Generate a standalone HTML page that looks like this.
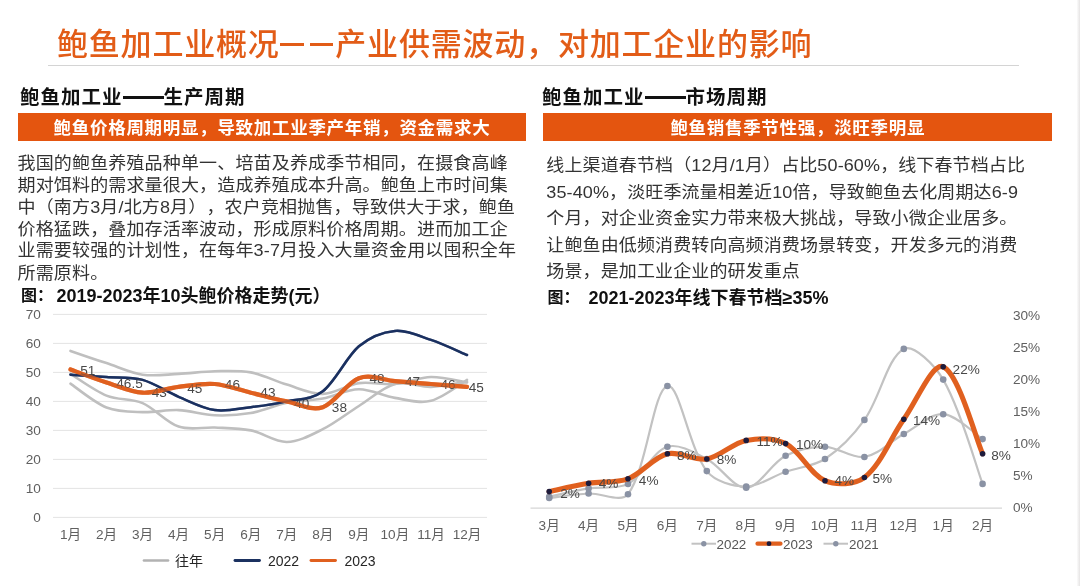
<!DOCTYPE html>
<html lang="zh-CN">
<head>
<meta charset="utf-8">
<title>鲍鱼加工业概况</title>
<style>
html,body{margin:0;padding:0;background:#fff;}
body{text-spacing-trim:space-all;width:1080px;height:586px;position:relative;overflow:hidden;font-family:"Liberation Sans","Noto Sans CJK SC",sans-serif;color:#2b2b2b;}
.abs{position:absolute;white-space:nowrap;}
#title{left:57px;top:23px;font-size:31px;line-height:44px;font-weight:500;color:#e25c17;letter-spacing:0.8px;}
.tdash{display:inline-block;width:55.7px;height:2.4px;vertical-align:9.5px;color:transparent;overflow:hidden;letter-spacing:0;line-height:2.4px;font-size:2px;background:linear-gradient(90deg,#e25c17 0,#e25c17 24px,transparent 24px,transparent 29.6px,#e25c17 29.6px,#e25c17 53px,transparent 53px);}
#rule{left:48px;top:65px;width:970.5px;height:1.2px;background:#d4d4d4;}
#edge{left:1077px;top:0;width:3px;height:586px;background:linear-gradient(90deg,#fbfbfb,#e6e4e4);}
.h2{font-size:19.5px;line-height:26px;font-weight:bold;color:#111;letter-spacing:1px;}
.dash{display:inline-block;width:41px;height:3px;background:#111;vertical-align:5.2px;color:transparent;overflow:hidden;letter-spacing:0;line-height:2.2px;font-size:2px;}
#h2l{left:20px;top:84px;}
#h2r{left:542px;top:84px;}
.bar{background:#e4550f;color:#fff;font-weight:bold;text-align:center;height:25.3px;padding-top:3px;line-height:25.3px;top:112.7px;font-size:17.5px;letter-spacing:0.7px;}
#barl{left:18px;width:508px;}
#barr{left:543.4px;width:508.8px;}
.body{font-size:18px;color:#333;transform:scaleY(0.93);transform-origin:0 0;}
#bodyl{left:17.5px;top:153px;line-height:23.5px;letter-spacing:0.16px;}
#bodyr{left:546.3px;top:152px;line-height:28.5px;letter-spacing:0.12px;}
.cap{font-size:16px;font-weight:bold;color:#111;line-height:24px;}
.cap2{font-size:18px;font-weight:bold;color:#111;line-height:24px;}
#capl{left:21px;top:284px;}
#capl2{left:56.5px;top:284px;}
#capr{left:547.5px;top:286px;}
#capr2{left:588.5px;top:286px;}
svg{position:absolute;left:0;top:0;}
svg text{font-family:"Liberation Sans","Noto Sans CJK SC",sans-serif;}
.ax{font-size:13.6px;fill:#606060;}
.dl{font-size:13.6px;fill:#484848;}
.lg{font-size:14px;fill:#262626;}
.lg2{font-size:13.4px;fill:#555;}
</style>
</head>
<body>
<div id="title" class="abs">鲍鱼加工业概况<span class="tdash">——</span>产业供需波动，对加工企业的影响</div>
<div id="rule" class="abs"></div>
<div id="edge" class="abs"></div>
<div id="h2l" class="abs h2">鲍鱼加工业<span class="dash">——</span>生产周期</div>
<div id="h2r" class="abs h2">鲍鱼加工业<span class="dash">——</span>市场周期</div>
<div id="barl" class="abs bar">鲍鱼价格周期明显，导致加工业季产年销，资金需求大</div>
<div id="barr" class="abs bar">鲍鱼销售季节性强，淡旺季明显</div>
<div id="bodyl" class="abs body">我国的鲍鱼养殖品种单一、培苗及养成季节相同，在摄食高峰<br>期对饵料的需求量很大，造成养殖成本升高。鲍鱼上市时间集<br>中（南方3月/北方8月），农户竞相抛售，导致供大于求，鲍鱼<br>价格猛跌，叠加存活率波动，形成原料价格周期。进而加工企<br>业需要较强的计划性，在每年3-7月投入大量资金用以囤积全年<br>所需原料。</div>
<div id="bodyr" class="abs body">线上渠道春节档（12月/1月）占比50-60%，线下春节档占比<br>35-40%，淡旺季流量相差近10倍，导致鲍鱼去化周期达6-9<br>个月，对企业资金实力带来极大挑战，导致小微企业居多。<br>让鲍鱼由低频消费转向高频消费场景转变，开发多元的消费<br>场景，是加工业企业的研发重点</div>
<div id="capl" class="abs cap">图：</div><div id="capl2" class="abs cap2">2019-2023年10头鲍价格走势(元）</div>
<div id="capr" class="abs cap">图：</div><div id="capr2" class="abs cap2">2021-2023年线下春节档≥35%</div>
<svg width="1080" height="586" viewBox="0 0 1080 586">
<g id="chart-left">
<line x1="53" y1="517.4" x2="487" y2="517.4" stroke="#e4e4e4" stroke-width="1"/>
<text x="40.8" y="521.8" text-anchor="end" class="ax">0</text>
<line x1="53" y1="488.4" x2="487" y2="488.4" stroke="#e4e4e4" stroke-width="1"/>
<text x="40.8" y="492.8" text-anchor="end" class="ax">10</text>
<line x1="53" y1="459.4" x2="487" y2="459.4" stroke="#e4e4e4" stroke-width="1"/>
<text x="40.8" y="463.8" text-anchor="end" class="ax">20</text>
<line x1="53" y1="430.4" x2="487" y2="430.4" stroke="#e4e4e4" stroke-width="1"/>
<text x="40.8" y="434.8" text-anchor="end" class="ax">30</text>
<line x1="53" y1="401.4" x2="487" y2="401.4" stroke="#e4e4e4" stroke-width="1"/>
<text x="40.8" y="405.8" text-anchor="end" class="ax">40</text>
<line x1="53" y1="372.4" x2="487" y2="372.4" stroke="#e4e4e4" stroke-width="1"/>
<text x="40.8" y="376.8" text-anchor="end" class="ax">50</text>
<line x1="53" y1="343.4" x2="487" y2="343.4" stroke="#e4e4e4" stroke-width="1"/>
<text x="40.8" y="347.8" text-anchor="end" class="ax">60</text>
<line x1="53" y1="314.4" x2="487" y2="314.4" stroke="#e4e4e4" stroke-width="1"/>
<text x="40.8" y="318.8" text-anchor="end" class="ax">70</text>
<path d="M70.5 350.9 C76.5 353.0 94.5 359.2 106.5 363.1 C118.6 367.1 130.6 372.9 142.6 374.7 C154.6 376.5 166.6 374.4 178.6 373.9 C190.7 373.3 202.7 371.5 214.7 371.2 C226.7 371.0 238.7 370.2 250.8 372.4 C262.8 374.6 274.8 381.0 286.8 384.6 C298.8 388.2 310.8 394.1 322.8 393.9 C334.9 393.6 346.9 384.8 358.9 383.1 C370.9 381.5 382.9 385.0 394.9 384.0 C407.0 383.0 419.0 377.3 431.0 377.0 C443.0 376.8 461.0 381.6 467.0 382.5" fill="none" stroke="#bfbfbf" stroke-width="2.6" stroke-linecap="round"/>
<path d="M70.5 383.7 C76.5 387.7 94.5 402.8 106.5 407.5 C118.6 412.2 130.6 411.7 142.6 412.1 C154.6 412.6 166.6 409.6 178.6 410.1 C190.7 410.6 202.7 414.8 214.7 415.3 C226.7 415.8 238.7 415.1 250.8 413.0 C262.8 410.9 274.8 405.3 286.8 402.8 C298.8 400.4 310.8 400.8 322.8 398.5 C334.9 396.2 346.9 389.3 358.9 389.2 C370.9 389.1 382.9 396.0 394.9 397.9 C407.0 399.9 419.0 403.8 431.0 400.8 C443.0 397.8 461.0 383.4 467.0 379.9" fill="none" stroke="#bfbfbf" stroke-width="2.6" stroke-linecap="round"/>
<path d="M70.5 373.9 C76.5 377.5 94.5 390.7 106.5 395.6 C118.6 400.5 130.6 398.0 142.6 403.1 C154.6 408.3 166.6 422.6 178.6 426.6 C190.7 430.7 202.7 426.9 214.7 427.5 C226.7 428.1 238.7 428.0 250.8 430.4 C262.8 432.8 274.8 442.2 286.8 442.0 C298.8 441.8 310.8 435.2 322.8 429.2 C334.9 423.2 346.9 413.6 358.9 406.0 C370.9 398.5 382.9 387.2 394.9 384.0 C407.0 380.8 419.0 387.3 431.0 386.9 C443.0 386.5 461.0 382.5 467.0 381.7" fill="none" stroke="#bfbfbf" stroke-width="2.6" stroke-linecap="round"/>
<path d="M70.5 374.7 C76.5 375.1 94.5 376.2 106.5 377.0 C118.6 377.9 130.6 376.7 142.6 379.9 C154.6 383.2 166.6 391.7 178.6 396.8 C190.7 401.8 202.7 408.4 214.7 410.1 C226.7 411.8 238.7 408.6 250.8 407.2 C262.8 405.8 274.8 404.1 286.8 401.4 C298.8 398.7 310.8 400.4 322.8 391.2 C334.9 382.1 346.9 356.4 358.9 346.3 C370.9 336.2 382.9 332.0 394.9 330.9 C407.0 329.9 419.0 335.9 431.0 339.9 C443.0 343.9 461.0 352.5 467.0 355.0" fill="none" stroke="#1b3160" stroke-width="2.5" stroke-linecap="round"/>
<path d="M70.5 369.5 C76.5 371.7 94.5 378.7 106.5 382.5 C118.6 386.4 130.6 392.0 142.6 392.7 C154.6 393.4 166.6 388.3 178.6 386.9 C190.7 385.4 202.7 383.0 214.7 384.0 C226.7 385.0 238.7 389.8 250.8 392.7 C262.8 395.6 274.8 399.0 286.8 401.4 C298.8 403.8 310.8 411.1 322.8 407.2 C334.9 403.3 346.9 382.5 358.9 378.2 C370.9 373.9 382.9 380.1 394.9 381.1 C407.0 382.1 419.0 383.0 431.0 384.0 C443.0 385.0 461.0 386.4 467.0 386.9" fill="none" stroke="#e0601f" stroke-width="4.2" stroke-linecap="round"/>
<text x="87.7" y="375.0" text-anchor="middle" class="dl">51</text>
<text x="129.5" y="388.1" text-anchor="middle" class="dl">46.5</text>
<text x="159.3" y="396.9" text-anchor="middle" class="dl">43</text>
<text x="194.8" y="393.2" text-anchor="middle" class="dl">45</text>
<text x="232.4" y="388.6" text-anchor="middle" class="dl">46</text>
<text x="267.9" y="396.9" text-anchor="middle" class="dl">43</text>
<text x="301.8" y="407.9" text-anchor="middle" class="dl">40</text>
<text x="339.4" y="412.1" text-anchor="middle" class="dl">38</text>
<text x="377.0" y="383.4" text-anchor="middle" class="dl">48</text>
<text x="412.5" y="386.0" text-anchor="middle" class="dl">47</text>
<text x="448.0" y="388.6" text-anchor="middle" class="dl">46</text>
<text x="476.2" y="392.2" text-anchor="middle" class="dl">45</text>
<path d="M70.5 374.7 C76.5 375.1 94.5 376.2 106.5 377.0 C118.6 377.9 130.6 376.7 142.6 379.9 C154.6 383.2 166.6 391.7 178.6 396.8 C190.7 401.8 202.7 408.4 214.7 410.1 C226.7 411.8 238.7 408.6 250.8 407.2 C262.8 405.8 274.8 404.1 286.8 401.4 C298.8 398.7 310.8 400.4 322.8 391.2 C334.9 382.1 346.9 356.4 358.9 346.3 C370.9 336.2 382.9 332.0 394.9 330.9 C407.0 329.9 419.0 335.9 431.0 339.9 C443.0 343.9 461.0 352.5 467.0 355.0" fill="none" stroke="#1b3160" stroke-width="2.5" stroke-linecap="round" opacity="0.6"/>
<path d="M70.5 369.5 C76.5 371.7 94.5 378.7 106.5 382.5 C118.6 386.4 130.6 392.0 142.6 392.7 C154.6 393.4 166.6 388.3 178.6 386.9 C190.7 385.4 202.7 383.0 214.7 384.0 C226.7 385.0 238.7 389.8 250.8 392.7 C262.8 395.6 274.8 399.0 286.8 401.4 C298.8 403.8 310.8 411.1 322.8 407.2 C334.9 403.3 346.9 382.5 358.9 378.2 C370.9 373.9 382.9 380.1 394.9 381.1 C407.0 382.1 419.0 383.0 431.0 384.0 C443.0 385.0 461.0 386.4 467.0 386.9" fill="none" stroke="#e0601f" stroke-width="4.2" stroke-linecap="round" opacity="0.6"/>
<text x="70.5" y="539.3" text-anchor="middle" class="ax cj">1月</text>
<text x="106.5" y="539.3" text-anchor="middle" class="ax cj">2月</text>
<text x="142.6" y="539.3" text-anchor="middle" class="ax cj">3月</text>
<text x="178.6" y="539.3" text-anchor="middle" class="ax cj">4月</text>
<text x="214.7" y="539.3" text-anchor="middle" class="ax cj">5月</text>
<text x="250.8" y="539.3" text-anchor="middle" class="ax cj">6月</text>
<text x="286.8" y="539.3" text-anchor="middle" class="ax cj">7月</text>
<text x="322.8" y="539.3" text-anchor="middle" class="ax cj">8月</text>
<text x="358.9" y="539.3" text-anchor="middle" class="ax cj">9月</text>
<text x="394.9" y="539.3" text-anchor="middle" class="ax cj">10月</text>
<text x="431.0" y="539.3" text-anchor="middle" class="ax cj">11月</text>
<text x="467.0" y="539.3" text-anchor="middle" class="ax cj">12月</text>
<line x1="144" y1="560.5" x2="168" y2="560.5" stroke="#b2b2b2" stroke-width="2.7" stroke-linecap="round"/>
<text x="175" y="565.5" class="lg cj">往年</text>
<line x1="235" y1="560.5" x2="259.5" y2="560.5" stroke="#1b3160" stroke-width="2.9" stroke-linecap="round"/>
<text x="268" y="565.5" class="lg">2022</text>
<line x1="311" y1="560.5" x2="335.5" y2="560.5" stroke="#e0601f" stroke-width="2.9" stroke-linecap="round"/>
<text x="344.5" y="565.5" class="lg">2023</text>
</g>
<g id="chart-right">
<line x1="530.5" y1="508.1" x2="1002" y2="508.1" stroke="#d6d6d6" stroke-width="1.2"/>
<text x="1013" y="512.0" class="ax">0%</text>
<text x="1013" y="480.0" class="ax">5%</text>
<text x="1013" y="448.0" class="ax">10%</text>
<text x="1013" y="416.0" class="ax">15%</text>
<text x="1013" y="384.0" class="ax">20%</text>
<text x="1013" y="352.0" class="ax">25%</text>
<text x="1013" y="320.0" class="ax">30%</text>
<path d="M549.2 498.0 C555.8 497.3 575.4 494.2 588.6 493.5 C601.7 492.9 621.3 503.3 628.0 494.2 C647.6 467.5 652.9 390.2 667.4 386.0 C679.2 382.6 688.7 448.0 706.8 471.1 C715.0 481.5 733.0 486.4 746.2 486.5 C759.3 486.6 772.4 476.4 785.6 471.8 C798.6 467.2 813.8 466.3 825.0 459.0 C840.0 449.1 853.7 434.8 864.4 419.9 C880.0 398.1 887.5 357.2 903.8 348.9 C913.8 343.8 935.1 365.7 943.2 379.6 C961.3 410.7 976.0 466.5 982.6 483.9" fill="none" stroke="#c2c2c2" stroke-width="2.2"/>
<path d="M549.2 496.7 C555.8 495.3 575.4 490.5 588.6 488.4 C601.6 486.3 616.9 489.8 628.0 483.9 C643.2 475.9 652.5 451.5 667.4 446.8 C678.8 443.2 694.8 452.7 706.8 459.0 C721.0 466.4 733.3 488.3 746.2 487.8 C759.6 487.2 771.0 463.4 785.6 455.8 C797.2 449.7 811.9 446.6 825.0 446.8 C838.2 447.0 852.0 459.1 864.4 457.0 C878.3 454.8 890.4 441.3 903.8 434.0 C916.7 427.0 930.4 413.3 943.2 414.2 C956.7 415.0 976.0 435.0 982.6 439.1" fill="none" stroke="#c2c2c2" stroke-width="2.2"/>
<circle cx="549.2" cy="498.0" r="3.3" fill="#8a92a4"/>
<circle cx="588.6" cy="493.5" r="3.3" fill="#8a92a4"/>
<circle cx="628.0" cy="494.2" r="3.3" fill="#8a92a4"/>
<circle cx="667.4" cy="386.0" r="3.3" fill="#8a92a4"/>
<circle cx="706.8" cy="471.1" r="3.3" fill="#8a92a4"/>
<circle cx="746.2" cy="486.5" r="3.3" fill="#8a92a4"/>
<circle cx="785.6" cy="471.8" r="3.3" fill="#8a92a4"/>
<circle cx="825.0" cy="459.0" r="3.3" fill="#8a92a4"/>
<circle cx="864.4" cy="419.9" r="3.3" fill="#8a92a4"/>
<circle cx="903.8" cy="348.9" r="3.3" fill="#8a92a4"/>
<circle cx="943.2" cy="379.6" r="3.3" fill="#8a92a4"/>
<circle cx="982.6" cy="483.9" r="3.3" fill="#8a92a4"/>
<circle cx="549.2" cy="496.7" r="3.3" fill="#8a92a4"/>
<circle cx="588.6" cy="488.4" r="3.3" fill="#8a92a4"/>
<circle cx="628.0" cy="483.9" r="3.3" fill="#8a92a4"/>
<circle cx="667.4" cy="446.8" r="3.3" fill="#8a92a4"/>
<circle cx="706.8" cy="459.0" r="3.3" fill="#8a92a4"/>
<circle cx="746.2" cy="487.8" r="3.3" fill="#8a92a4"/>
<circle cx="785.6" cy="455.8" r="3.3" fill="#8a92a4"/>
<circle cx="825.0" cy="446.8" r="3.3" fill="#8a92a4"/>
<circle cx="864.4" cy="457.0" r="3.3" fill="#8a92a4"/>
<circle cx="903.8" cy="434.0" r="3.3" fill="#8a92a4"/>
<circle cx="943.2" cy="414.2" r="3.3" fill="#8a92a4"/>
<circle cx="982.6" cy="439.1" r="3.3" fill="#8a92a4"/>
<path d="M549.2 491.6 C555.8 490.2 575.4 485.4 588.6 483.3 C601.6 481.2 615.9 483.3 628.0 478.8 C642.2 473.5 653.2 457.4 667.4 453.8 C679.5 450.8 694.3 461.1 706.8 459.0 C720.5 456.6 732.4 443.1 746.2 440.4 C758.7 438.0 774.5 437.9 785.6 443.6 C800.8 451.4 809.8 474.2 825.0 480.7 C836.1 485.5 854.9 484.9 864.4 477.5 C881.2 464.4 890.2 438.4 903.8 419.3 C916.5 401.5 932.5 362.1 943.2 366.8 C958.8 373.6 976.0 439.3 982.6 453.8" fill="none" stroke="#e0601f" stroke-width="5.1" stroke-linecap="round"/>
<circle cx="549.2" cy="491.6" r="2.8" fill="#1d1b3c"/>
<circle cx="588.6" cy="483.3" r="2.8" fill="#1d1b3c"/>
<circle cx="628.0" cy="478.8" r="2.8" fill="#1d1b3c"/>
<circle cx="667.4" cy="453.8" r="2.8" fill="#1d1b3c"/>
<circle cx="706.8" cy="459.0" r="2.8" fill="#1d1b3c"/>
<circle cx="746.2" cy="440.4" r="2.8" fill="#1d1b3c"/>
<circle cx="785.6" cy="443.6" r="2.8" fill="#1d1b3c"/>
<circle cx="825.0" cy="480.7" r="2.8" fill="#1d1b3c"/>
<circle cx="864.4" cy="477.5" r="2.8" fill="#1d1b3c"/>
<circle cx="903.8" cy="419.3" r="2.8" fill="#1d1b3c"/>
<circle cx="943.2" cy="366.8" r="2.8" fill="#1d1b3c"/>
<circle cx="982.6" cy="453.8" r="2.8" fill="#1d1b3c"/>
<text x="570.1" y="497.6" text-anchor="middle" class="dl">2%</text>
<text x="608.6" y="488.2" text-anchor="middle" class="dl">4%</text>
<text x="648.7" y="484.5" text-anchor="middle" class="dl">4%</text>
<text x="686.8" y="459.9" text-anchor="middle" class="dl">8%</text>
<text x="726.5" y="464.0" text-anchor="middle" class="dl">8%</text>
<text x="769.5" y="445.6" text-anchor="middle" class="dl">11%</text>
<text x="809.5" y="449.3" text-anchor="middle" class="dl">10%</text>
<text x="844.3" y="485.3" text-anchor="middle" class="dl">4%</text>
<text x="882.3" y="483.3" text-anchor="middle" class="dl">5%</text>
<text x="926.5" y="424.7" text-anchor="middle" class="dl">14%</text>
<text x="966.2" y="373.6" text-anchor="middle" class="dl">22%</text>
<text x="1001.0" y="459.5" text-anchor="middle" class="dl">8%</text>
<text x="549.2" y="529.7" text-anchor="middle" class="ax cj">3月</text>
<text x="588.6" y="529.7" text-anchor="middle" class="ax cj">4月</text>
<text x="628.0" y="529.7" text-anchor="middle" class="ax cj">5月</text>
<text x="667.4" y="529.7" text-anchor="middle" class="ax cj">6月</text>
<text x="706.8" y="529.7" text-anchor="middle" class="ax cj">7月</text>
<text x="746.2" y="529.7" text-anchor="middle" class="ax cj">8月</text>
<text x="785.6" y="529.7" text-anchor="middle" class="ax cj">9月</text>
<text x="825.0" y="529.7" text-anchor="middle" class="ax cj">10月</text>
<text x="864.4" y="529.7" text-anchor="middle" class="ax cj">11月</text>
<text x="903.8" y="529.7" text-anchor="middle" class="ax cj">12月</text>
<text x="943.2" y="529.7" text-anchor="middle" class="ax cj">1月</text>
<text x="982.6" y="529.7" text-anchor="middle" class="ax cj">2月</text>
<line x1="691.5" y1="543.7" x2="716.0" y2="543.7" stroke="#c2c2c2" stroke-width="2" stroke-linecap="butt"/>
<circle cx="703.8" cy="543.7" r="2.7" fill="#8a92a4"/>
<text x="716.5" y="548.5" class="lg2">2022</text>
<line x1="757.5" y1="543.7" x2="780.5" y2="543.7" stroke="#e0601f" stroke-width="4.2" stroke-linecap="round"/>
<circle cx="769.0" cy="543.7" r="2.4" fill="#1d1b3c"/>
<text x="783.0" y="548.5" class="lg2">2023</text>
<line x1="823.5" y1="543.7" x2="848.0" y2="543.7" stroke="#c2c2c2" stroke-width="2" stroke-linecap="butt"/>
<circle cx="835.8" cy="543.7" r="2.7" fill="#8a92a4"/>
<text x="849.0" y="548.5" class="lg2">2021</text>
</g>
</svg>
</body>
</html>
